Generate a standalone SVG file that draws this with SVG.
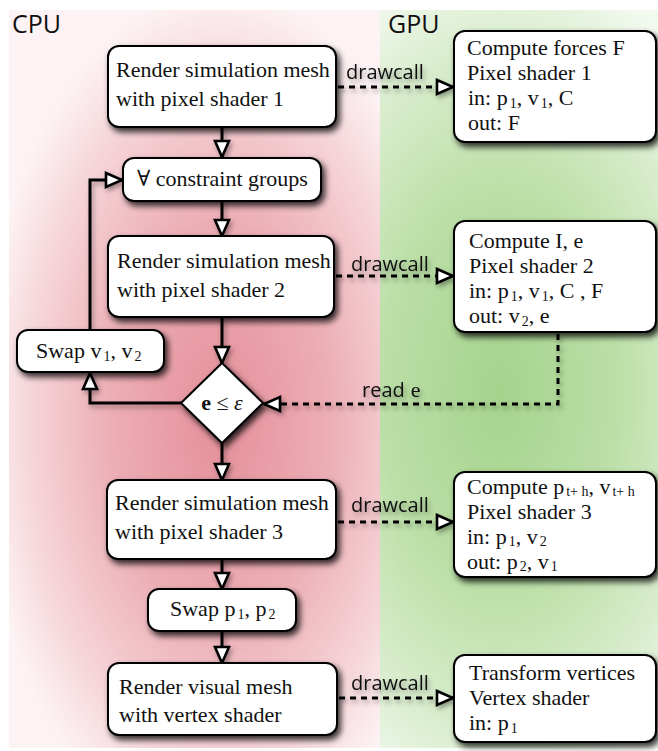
<svg xmlns="http://www.w3.org/2000/svg" width="658" height="751" viewBox="0 0 658 751">
<defs>
<radialGradient id="gPink" gradientUnits="userSpaceOnUse" cx="0" cy="0" r="1" gradientTransform="translate(220,420) scale(240,430)">
<stop offset="0" stop-color="#e58f99"/>
<stop offset="0.45" stop-color="#ecadb4"/>
<stop offset="0.8" stop-color="#f6d6da"/>
<stop offset="1" stop-color="#fdf3f4"/>
</radialGradient>
<radialGradient id="gGreen" gradientUnits="userSpaceOnUse" cx="0" cy="0" r="1" gradientTransform="translate(500,390) scale(260,440)">
<stop offset="0" stop-color="#a5d38c"/>
<stop offset="0.45" stop-color="#bbdfa7"/>
<stop offset="0.8" stop-color="#dbeed0"/>
<stop offset="1" stop-color="#f2f9ef"/>
</radialGradient>
<filter id="sh" x="-20%" y="-20%" width="140%" height="150%">
<feDropShadow dx="3" dy="4" stdDeviation="3" flood-color="#000" flood-opacity="0.8"/>
</filter>
<filter id="shl" x="-20%" y="-50%" width="140%" height="200%">
<feDropShadow dx="2" dy="3" stdDeviation="2.5" flood-color="#000" flood-opacity="0.35"/>
</filter>
<marker id="ah" markerUnits="userSpaceOnUse" viewBox="0 0 20 20" refX="18" refY="10" markerWidth="20" markerHeight="20" orient="auto">
<path d="M2,3 L18,10 L2,17 Z" fill="#fff" stroke="#000" stroke-width="2.6" stroke-linejoin="miter"/>
</marker>
<style>
.box{fill:#fff;stroke:#000;stroke-width:2}
.t{font-family:"Liberation Serif","DejaVu Serif",serif;font-size:22px;fill:#111}
.s{font-size:14px}
.lab{font-family:"Open Sans","DejaVu Sans",sans-serif;font-size:20px;fill:#111}
.hdr{font-family:"Open Sans","DejaVu Sans",sans-serif;font-size:25px;fill:#111}
.solid{fill:none;stroke:#000;stroke-width:3}
.dash{fill:none;stroke:#000;stroke-width:3;stroke-dasharray:6 5}
</style>
</defs>
<rect x="0" y="0" width="658" height="751" fill="#fff"/>
<rect x="9" y="10" width="371" height="738" fill="url(#gPink)"/>
<rect x="380" y="10" width="278" height="738" fill="url(#gGreen)"/>
<text class="hdr" x="12" y="33">CPU</text>
<text class="hdr" x="388" y="33">GPU</text>

<g id="connectors" filter="url(#shl)">
<path class="solid" d="M222,127 V157" marker-end="url(#ah)"/>
<path class="solid" d="M222,201 V236" marker-end="url(#ah)"/>
<path class="solid" d="M222,317 V363" marker-end="url(#ah)"/>
<path class="solid" d="M222,443 V480" marker-end="url(#ah)"/>
<path class="solid" d="M222,559 V589" marker-end="url(#ah)"/>
<path class="solid" d="M222,631 V663" marker-end="url(#ah)"/>
<path class="solid" d="M181,403 H90 V373" marker-end="url(#ah)"/>
<path class="solid" d="M90,330 V180 H122" marker-end="url(#ah)"/>
<path class="dash" d="M338,87 H453" marker-end="url(#ah)"/>
<path class="dash" d="M336,276 H453" marker-end="url(#ah)"/>
<path class="dash" d="M338,522 H453" marker-end="url(#ah)"/>
<path class="dash" d="M339,698 H453" marker-end="url(#ah)"/>
<path class="dash" d="M558,334 V404 H264" marker-end="url(#ah)"/>
<text class="lab" x="346" y="79">drawcall</text>
<text class="lab" x="351" y="271">drawcall</text>
<text class="lab" x="351" y="512">drawcall</text>
<text class="lab" x="351" y="690">drawcall</text>
<text x="362" y="397"><tspan class="lab">read</tspan><tspan class="t" dx="6">e</tspan></text>
</g>

<g id="n1">
<rect class="box" filter="url(#sh)" x="108" y="46" width="228" height="81" rx="11"/>
<text class="t" x="116" y="77">Render simulation mesh</text>
<text class="t" x="116" y="106">with pixel shader 1</text>
</g>
<g id="n2">
<rect class="box" filter="url(#sh)" x="123" y="158" width="198" height="43" rx="11"/>
<text class="t" x="137" y="186">∀ constraint groups</text>
</g>
<g id="n3">
<rect class="box" filter="url(#sh)" x="108" y="236" width="226" height="81" rx="11"/>
<text class="t" x="117" y="268">Render simulation mesh</text>
<text class="t" x="117" y="297">with pixel shader 2</text>
</g>
<g id="n4">
<rect class="box" filter="url(#sh)" x="17" y="330" width="147" height="42" rx="11"/>
<text class="t" x="36" y="358">Swap v<tspan class="s" dx="2" dy="3">1</tspan><tspan dy="-3">, v</tspan><tspan class="s" dx="2" dy="3">2</tspan></text>
</g>
<g id="n5">
<polygon class="box" filter="url(#sh)" points="222,363 263,403 222,443 181,403"/>
<text class="t" x="222" y="410" text-anchor="middle" font-size="23"><tspan font-weight="bold">e</tspan> ≤ <tspan font-style="italic">ε</tspan></text>
</g>
<g id="n6">
<rect class="box" filter="url(#sh)" x="107" y="480" width="229" height="79" rx="11"/>
<text class="t" x="115" y="510">Render simulation mesh</text>
<text class="t" x="115" y="539">with pixel shader 3</text>
</g>
<g id="n7">
<rect class="box" filter="url(#sh)" x="148" y="589" width="148" height="42" rx="11"/>
<text class="t" x="170" y="616">Swap p<tspan class="s" dx="2" dy="3">1</tspan><tspan dy="-3">, p</tspan><tspan class="s" dx="2" dy="3">2</tspan></text>
</g>
<g id="n8">
<rect class="box" filter="url(#sh)" x="108" y="663" width="229" height="72" rx="11"/>
<text class="t" x="119" y="694">Render visual mesh</text>
<text class="t" x="119" y="722">with vertex shader</text>
</g>

<g id="r1">
<rect class="box" filter="url(#sh)" x="454" y="31" width="202" height="111" rx="11"/>
<text class="t" x="467" y="55">Compute forces F</text>
<text class="t" x="467" y="80">Pixel shader 1</text>
<text class="t" x="468" y="105">in: p<tspan class="s" dx="2" dy="3">1</tspan><tspan dy="-3">, v</tspan><tspan class="s" dx="2" dy="3">1</tspan><tspan dy="-3">, C</tspan></text>
<text class="t" x="468" y="130">out: F</text>
</g>
<g id="r2">
<rect class="box" filter="url(#sh)" x="454" y="221" width="202" height="111" rx="11"/>
<text class="t" x="469" y="248">Compute I, e</text>
<text class="t" x="469" y="273">Pixel shader 2</text>
<text class="t" x="469" y="298">in: p<tspan class="s" dx="2" dy="3">1</tspan><tspan dy="-3">, v</tspan><tspan class="s" dx="2" dy="3">1</tspan><tspan dy="-3">, C , F</tspan></text>
<text class="t" x="469" y="323">out: v<tspan class="s" dx="2" dy="3">2</tspan><tspan dy="-3">, e</tspan></text>
</g>
<g id="r3">
<rect class="box" filter="url(#sh)" x="454" y="472" width="202" height="105" rx="11"/>
<text class="t" x="467" y="494">Compute p<tspan class="s" dx="2" dy="2">t+ h</tspan><tspan dy="-2">, v</tspan><tspan class="s" dx="2" dy="2">t+ h</tspan></text>
<text class="t" x="467" y="519">Pixel shader 3</text>
<text class="t" x="467" y="544">in: p<tspan class="s" dx="2" dy="2">1</tspan><tspan dy="-2">, v</tspan><tspan class="s" dx="2" dy="2">2</tspan></text>
<text class="t" x="467" y="569">out: p<tspan class="s" dx="2" dy="2">2</tspan><tspan dy="-2">, v</tspan><tspan class="s" dx="2" dy="2">1</tspan></text>
</g>
<g id="r4">
<rect class="box" filter="url(#sh)" x="454" y="655" width="202" height="87" rx="11"/>
<text class="t" x="469" y="680">Transform vertices</text>
<text class="t" x="469" y="705">Vertex shader</text>
<text class="t" x="469" y="730">in: p<tspan class="s" dx="2" dy="3">1</tspan></text>
</g>
</svg>
